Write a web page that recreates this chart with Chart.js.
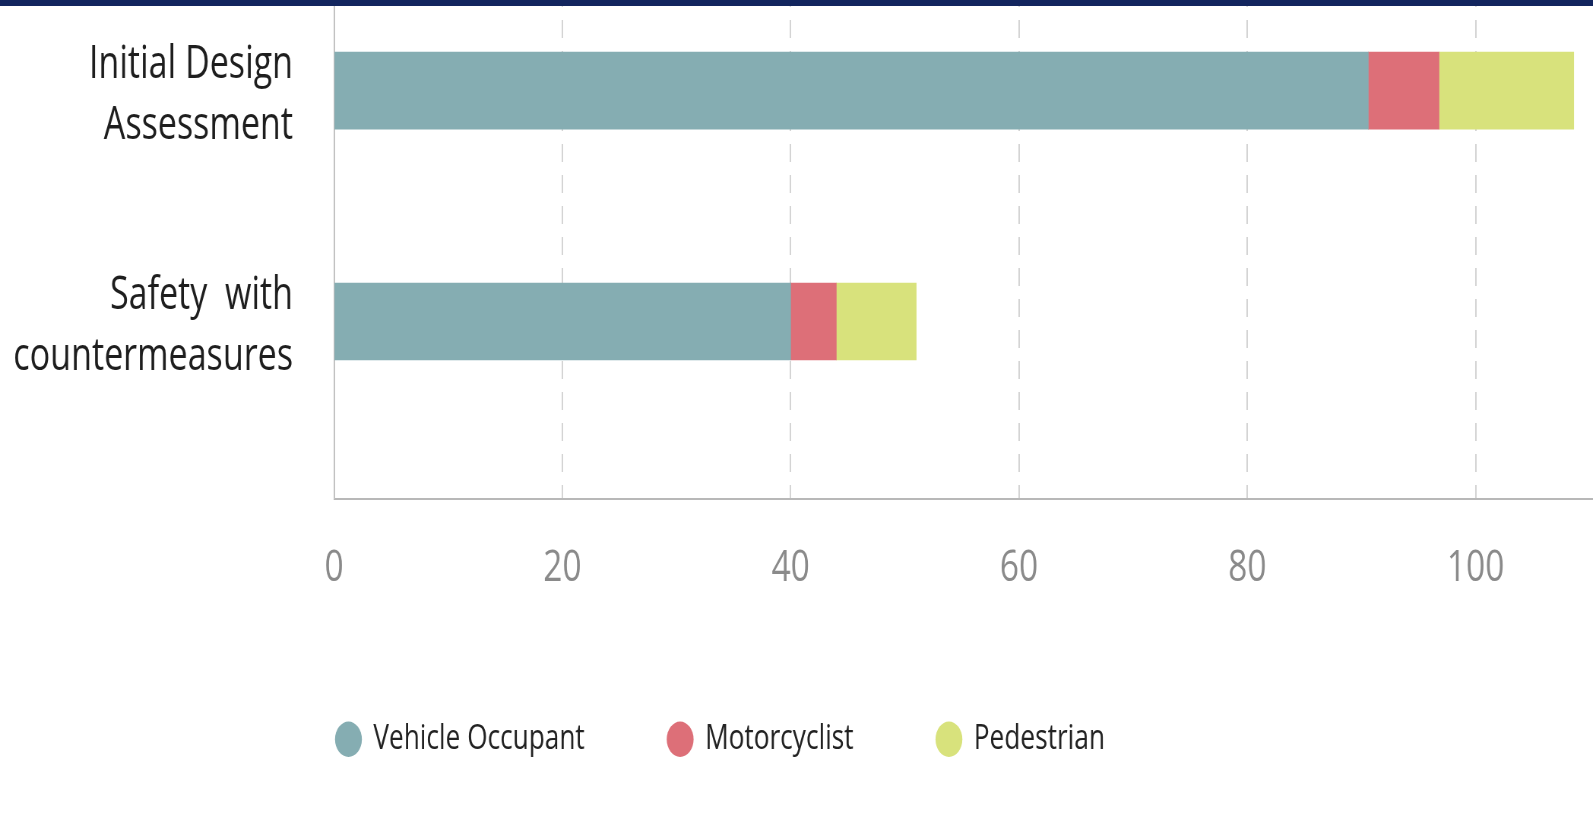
<!DOCTYPE html>
<html>
<head>
<meta charset="utf-8">
<script src="https://cdn.jsdelivr.net/npm/chart.js@4.4.0/dist/chart.umd.min.js"></script>
<style>
  html, body { margin: 0; padding: 0; background: #fff; overflow: hidden; }
  #topbar { position: absolute; left: 0; top: 0; width: 1593px; height: 6px; background: #12255e; z-index: 2; }
  /* the source picture is squeezed horizontally, so draw wide and squeeze */
  #wrap { position: absolute; left: 0; top: 0; transform: scaleX(0.76); transform-origin: 0 0; }
</style>
</head>
<body>
<div id="topbar"></div>
<div id="wrap"><canvas id="chart" width="2250" height="827"></canvas></div>
<script>
// categories (multi-line labels)
const categories = [['Initial Design', 'Assessment'], ['Safety  with', 'countermeasures']];
const seriesNames = ['Vehicle Occupant', 'Motorcyclist', 'Pedestrian'];
const vehicleOccupant = [90.6, 40];
const motorcyclist = [6.2, 4];
const pedestrian = [11.8, 7];
const xTicks = [0, 20, 40, 60, 80, 100, 120];

const colors = ['#85adb2', '#dd6f78', '#d8e27c'];
const font = 'Open Sans';

// bars sit on a linear index axis so their position in the plot can be matched
const toPoints = (arr) => arr.map((v, i) => ({ x: v, y: i }));

const datasets = [vehicleOccupant, motorcyclist, pedestrian].map((arr, i) => ({
  label: seriesNames[i],
  data: toPoints(arr),
  backgroundColor: colors[i],
  borderWidth: 0,
  barThickness: 77
}));

// legend starts under the plot, not at the canvas edge
const legendShift = {
  id: 'legendShift',
  afterLayout(chart) { chart.legend.left += 333; }
};

new Chart(document.getElementById('chart'), {
  type: 'bar',
  data: { datasets },
  plugins: [legendShift],
  options: {
    indexAxis: 'y',
    responsive: false,
    animation: false,
    devicePixelRatio: 1,
    layout: { padding: { left: 0, right: 8, top: 0, bottom: 60.5 } },
    plugins: {
      tooltip: { enabled: false },
      legend: {
        position: 'bottom',
        align: 'start',
        labels: {
          usePointStyle: true,
          pointStyle: 'circle',
          boxHeight: 25,
          boxWidth: 31,
          padding: 110,
          color: '#222',
          font: { family: font, size: 34.5 }
        }
      }
    },
    scales: {
      x: {
        type: 'linear',
        stacked: true,
        min: xTicks[0],
        max: xTicks[xTicks.length - 1],
        afterBuildTicks: (s) => { s.ticks = xTicks.map(v => ({ value: v })); },
        afterFit: (s) => { s.height = 113.3; s.paddingLeft = 0; s.paddingRight = 0; },
        grid: { color: '#d4d4d4', lineWidth: 2, drawTicks: false },
        border: { display: true, color: '#b8b8b8', width: 2, dash: [18, 13], dashOffset: 11 },
        ticks: { color: '#8a8a8a', padding: 43, font: { family: font, size: 44 } }
      },
      y: {
        type: 'linear',
        stacked: true,
        reverse: true,
        offset: false,
        min: -0.392,
        max: 1.767,
        afterBuildTicks: (s) => { s.ticks = categories.map((c, i) => ({ value: i })); },
        afterFit: (s) => { s.width = 439.5; s.paddingTop = 0; s.paddingBottom = 0; },
        grid: { display: false, drawTicks: false },
        border: { display: true, color: '#c2c2c2', width: 2 },
        ticks: {
          color: '#1e1e1e',
          padding: 54,
          labelOffset: 5,
          font: { family: font, size: 44.8, lineHeight: 1.36 },
          callback: (v) => categories[v]
        }
      }
    }
  }
});
</script>
</body>
</html>
